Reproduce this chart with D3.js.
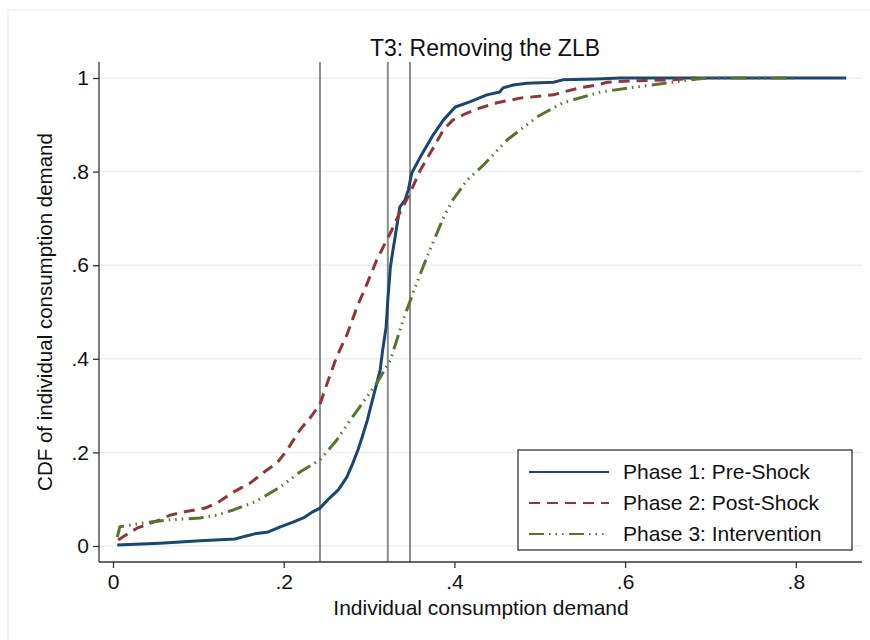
<!DOCTYPE html>
<html>
<head>
<meta charset="utf-8">
<script src="https://cdn.jsdelivr.net/npm/d3@7"></script>
<style>
  html, body { margin: 0; padding: 0; background: #fff; }
  svg { display: block; font-family: "Liberation Sans", Arial, Helvetica, sans-serif; }
</style>
</head>
<body>
<svg id="chart" width="870" height="640"></svg>
<script>
// ---------- data ----------
const title = "T3: Removing the ZLB";
const xTitle = "Individual consumption demand";
const yTitle = "CDF of individual consumption demand";
const xTicks = [0, 0.2, 0.4, 0.6, 0.8];
const xTickLabels = ["0", ".2", ".4", ".6", ".8"];
const yTicks = [0, 0.2, 0.4, 0.6, 0.8, 1];
const yTickLabels = ["0", ".2", ".4", ".6", ".8", "1"];
const vLines = [0.2425, 0.322, 0.348];
const seriesNames = ["Phase 1: Pre-Shock", "Phase 2: Post-Shock", "Phase 3: Intervention"];

const phase1 = [
  [0.005,0.002],[0.055,0.006],[0.102,0.011],[0.143,0.015],[0.155,0.021],[0.166,0.026],
  [0.182,0.030],[0.196,0.041],[0.211,0.051],[0.223,0.060],[0.234,0.073],[0.2425,0.081],
  [0.254,0.103],[0.264,0.120],[0.274,0.147],[0.281,0.177],[0.287,0.205],[0.292,0.233],
  [0.298,0.269],[0.301,0.291],[0.307,0.333],[0.313,0.376],[0.316,0.419],[0.320,0.468],
  [0.322,0.526],[0.325,0.596],[0.328,0.632],[0.330,0.654],[0.336,0.724],[0.342,0.739],
  [0.346,0.761],[0.350,0.797],[0.360,0.831],[0.375,0.878],[0.387,0.910],[0.401,0.938],
  [0.418,0.949],[0.438,0.964],[0.453,0.970],[0.457,0.979],[0.469,0.985],[0.485,0.989],
  [0.516,0.991],[0.527,0.996],[0.567,0.998],[0.594,1.0],[0.859,1.0]
];
const phase2 = [
  [0.006,0.013],[0.028,0.038],[0.055,0.056],[0.067,0.066],[0.084,0.073],[0.108,0.081],
  [0.122,0.092],[0.141,0.115],[0.161,0.135],[0.180,0.162],[0.192,0.177],[0.204,0.205],
  [0.219,0.248],[0.231,0.274],[0.2425,0.303],[0.251,0.348],[0.262,0.404],[0.274,0.451],
  [0.286,0.511],[0.298,0.562],[0.309,0.611],[0.325,0.669],[0.336,0.712],[0.348,0.754],
  [0.360,0.803],[0.375,0.850],[0.387,0.889],[0.398,0.910],[0.412,0.923],[0.430,0.936],
  [0.450,0.947],[0.477,0.957],[0.516,0.964],[0.527,0.970],[0.547,0.979],[0.567,0.985],
  [0.579,0.991],[0.609,0.994],[0.656,0.996],[0.682,1.0]
];
const phase3 = [
  [0.005,0.019],[0.008,0.041],[0.035,0.049],[0.067,0.056],[0.102,0.060],[0.122,0.066],
  [0.141,0.077],[0.166,0.094],[0.196,0.126],[0.219,0.158],[0.2425,0.184],[0.262,0.226],
  [0.278,0.269],[0.289,0.297],[0.309,0.348],[0.325,0.397],[0.340,0.483],[0.354,0.553],
  [0.368,0.618],[0.387,0.701],[0.398,0.739],[0.415,0.782],[0.434,0.814],[0.462,0.868],
  [0.497,0.917],[0.527,0.947],[0.571,0.970],[0.614,0.981],[0.656,0.991],[0.684,0.998],
  [0.699,1.0],[0.797,1.0]
];

// ---------- layout ----------
const svg = d3.select("#chart");
const plot = { left: 99, right: 862, top: 62, bottom: 562 };
const x = d3.scaleLinear().domain([0, 0.8]).range([113, 795.8]);
const y = d3.scaleLinear().domain([0, 1]).range([546, 78]);

const colors = ["#1a476f", "#90353b", "#55752f"];
const dashes = [null, "11,7", "15,5,1.5,5,1.5,5,1.5,5.5"];
const widths = [3, 3, 3];
const font = "'Liberation Sans', Arial, sans-serif";
const textColor = "#111";

// outer frame
svg.append("rect").attr("x", 8).attr("y", 10).attr("width", 900).attr("height", 700)
  .attr("fill", "#fff").attr("stroke", "#e6ecef").attr("stroke-width", 1);

// gridlines
svg.append("g").selectAll("line").data(yTicks).join("line")
  .attr("x1", plot.left).attr("x2", plot.right)
  .attr("y1", d => y(d)).attr("y2", d => y(d))
  .attr("stroke", "#e9f0f2").attr("stroke-width", 1.5);

// vertical reference lines
svg.append("g").selectAll("line").data(vLines).join("line")
  .attr("x1", d => x(d)).attr("x2", d => x(d))
  .attr("y1", plot.top).attr("y2", plot.bottom)
  .attr("stroke", "#8c8c8c").attr("stroke-width", 2);

// series
const line = d3.line().x(d => x(d[0])).y(d => y(d[1]));
[phase1, phase2, phase3].forEach((s, i) => {
  svg.append("path").datum(s).attr("d", line)
    .attr("fill", "none").attr("stroke", colors[i]).attr("stroke-width", widths[i])
    .attr("stroke-dasharray", dashes[i]).attr("stroke-linejoin", "round");
});

// axes
const axisColor = "#333";
const xAxis = svg.append("g").attr("transform", `translate(0,${plot.bottom})`)
  .call(d3.axisBottom(x).tickValues(xTicks).tickFormat((d, i) => xTickLabels[i]).tickSize(6).tickSizeOuter(0).tickPadding(6));
xAxis.select(".domain").attr("d", `M${plot.left},0H${plot.right}`);
const yAxis = svg.append("g").attr("transform", `translate(${plot.left},0)`)
  .call(d3.axisLeft(y).tickValues(yTicks).tickFormat((d, i) => yTickLabels[i]).tickSize(6).tickSizeOuter(0).tickPadding(4));
yAxis.select(".domain").attr("d", `M0,${plot.top}V${plot.bottom}`);
[xAxis, yAxis].forEach(g => {
  g.selectAll(".domain, .tick line").attr("stroke", axisColor).attr("stroke-width", 1.3);
  g.selectAll("text").attr("font-size", 21).attr("fill", textColor).attr("font-family", font);
});

// titles
svg.append("text").attr("x", 485).attr("y", 56).attr("text-anchor", "middle")
  .attr("font-size", 23).attr("fill", textColor).text(title);
svg.append("text").attr("x", 481).attr("y", 615).attr("text-anchor", "middle")
  .attr("font-size", 21).attr("fill", textColor).text(xTitle);
svg.append("text").attr("transform", "translate(52,312) rotate(-90)").attr("text-anchor", "middle")
  .attr("font-size", 20.5).attr("fill", textColor).text(yTitle);

// legend
const lg = svg.append("g");
lg.append("rect").attr("x", 518).attr("y", 450).attr("width", 334).attr("height", 100)
  .attr("fill", "#fff").attr("stroke", "#333").attr("stroke-width", 1.3);
seriesNames.forEach((name, i) => {
  const cy = 472 + i * 31;
  lg.append("line").attr("x1", 529).attr("x2", 609).attr("y1", cy).attr("y2", cy)
    .attr("stroke", colors[i]).attr("stroke-width", 2.2).attr("stroke-dasharray", dashes[i]);
  lg.append("text").attr("x", 623).attr("y", cy + 7).attr("font-size", 21).attr("fill", textColor).text(name);
});
</script>
</body>
</html>
